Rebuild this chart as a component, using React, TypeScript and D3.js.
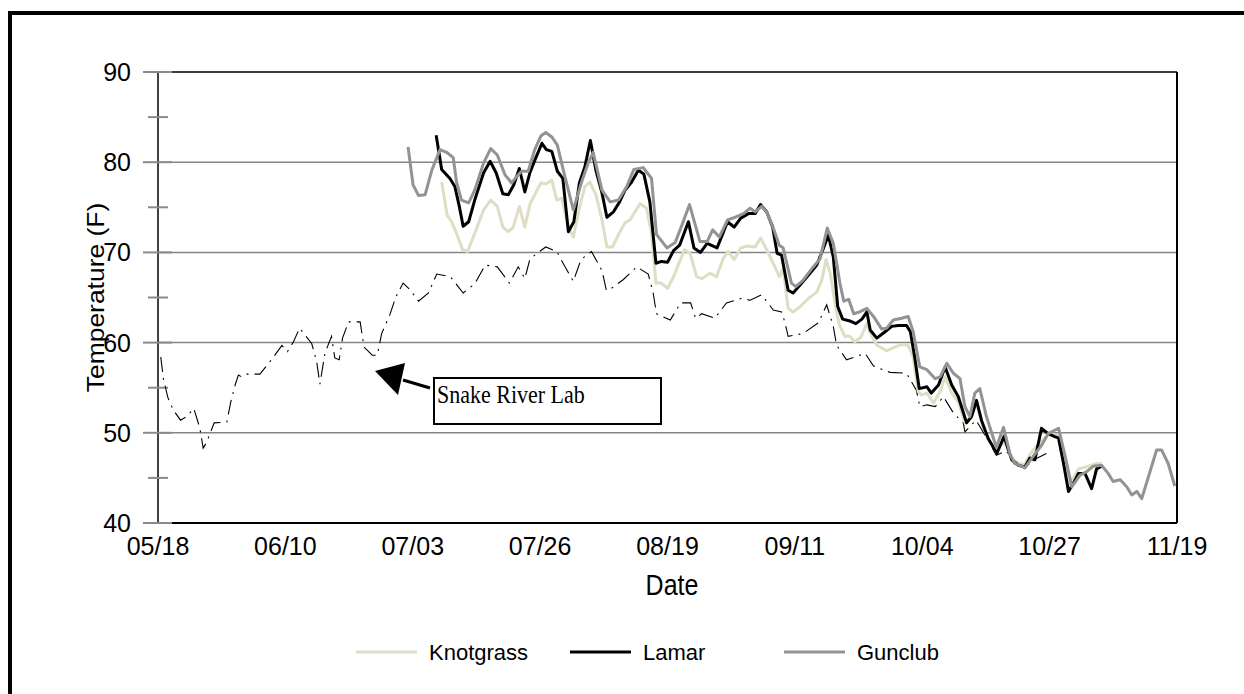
import * as d3 from "d3";

// days are counted from 05/18
const xTickLabels = ["05/18", "06/10", "07/03", "07/26", "08/19", "09/11", "10/04", "10/27", "11/19"];
const totalDays = 185;
const yTicks = [40, 50, 60, 70, 80, 90];
const yMinorTicks = [45, 55, 65, 75, 85];

const snakeRiver: [number, number][] = [
  [0.5, 58.4], [1, 55.9], [1.8, 53.9], [2.8, 52.5], [4.1, 51.4], [5.2, 51.8], [6.5, 52.7], [7.6, 50.5],
  [8.2, 48.3], [8.8, 48.9], [10.2, 51.1], [12.5, 51.2], [13.2, 53.4], [14, 55.3], [14.6, 56.4], [15.2, 56.2],
  [16.1, 56.5], [18.5, 56.5], [20.6, 58.1], [22.5, 59.7], [23.5, 59.0], [24.6, 60.1], [25.7, 61.6], [27.9, 59.9],
  [28.8, 57.9], [29.4, 55.4], [30.3, 58.8], [31.5, 60.7], [32.1, 58.3], [32.9, 58.1], [33.5, 60.5], [34.6, 62.3],
  [36.7, 62.3], [37.4, 59.5], [38.9, 58.6], [39.8, 58.6], [40.6, 61.0], [42.1, 63.1], [43.2, 65.1], [44.5, 66.6],
  [45.7, 65.9], [47.3, 64.6], [49.1, 65.5], [50.6, 67.6], [53.1, 67.3], [55.4, 65.5], [57.5, 66.5], [59.4, 68.6],
  [61.6, 68.4], [63.8, 66.6], [65.4, 68.4], [66.6, 67.1], [67.5, 69.2], [68.4, 69.7], [70.4, 70.6], [72.4, 70.1],
  [73.9, 68.4], [75.4, 66.8], [76.8, 69.2], [78.7, 70.1], [80.6, 68.0], [81.4, 65.8], [82.3, 66.0], [84.5, 67.0],
  [86.9, 68.4], [89, 67.6], [89.9, 65.5], [90.5, 63.2], [93, 62.5], [94.9, 64.4], [96.7, 64.4], [97.6, 62.7],
  [98.7, 63.2], [101.1, 62.7], [103.2, 64.4], [105.9, 64.9], [107.5, 64.7], [109.6, 65.3], [111.7, 63.6], [113.2, 63.4],
  [113.8, 62.3], [114.4, 60.7], [117.1, 61.0], [119.9, 62.2], [121.4, 64.2], [122.6, 61.8], [123.2, 59.7], [125, 58.1],
  [128.4, 58.8], [129.9, 57.4], [132.9, 56.7], [135.9, 56.6], [137.7, 54.7], [138.3, 52.9], [139.6, 53.1], [141.1, 52.9],
  [142.6, 54.0], [144.4, 52.2], [146.2, 51.1], [146.5, 50.1], [148.5, 51.4], [150.5, 49.4], [152.2, 47.5], [154, 48.0],
  [155.5, 46.5], [157.5, 46.2], [159, 47.0], [161.3, 47.7],
];

const knotgrass: [number, number][] = [
  [51.5, 77.8], [52.5, 74.1], [53.3, 73.4], [54.2, 72.1], [55.3, 70.3], [56.2, 70.1], [57.5, 72.1], [59.1, 74.7],
  [60.4, 75.8], [61.6, 75.1], [62.6, 72.8], [63.6, 72.3], [64.5, 72.8], [65.6, 75.1], [66.6, 72.8], [67.5, 75.3],
  [68.4, 76.4], [69.5, 77.7], [70.4, 77.6], [71.5, 78.0], [72.4, 75.8], [73.3, 76.0], [74.5, 72.8], [75.4, 71.7],
  [76.5, 74.9], [77.5, 77.3], [78.4, 77.8], [79.5, 76.4], [80.6, 73.6], [81.5, 70.6], [82.5, 70.6], [83.7, 72.1],
  [84.8, 73.3], [85.7, 73.6], [87.5, 75.4], [88.7, 74.9], [89.6, 72.1], [90.4, 66.6], [91.4, 66.6], [92.5, 66.0],
  [93.6, 67.3], [94.5, 68.7], [95.6, 70.3], [96.6, 69.9], [97.8, 67.3], [98.8, 67.1], [100.2, 67.7], [101.4, 67.3],
  [102.6, 69.3], [103.5, 70.1], [104.6, 69.2], [105.8, 70.5], [106.9, 70.7], [108.4, 70.6], [109.4, 71.6], [110.5, 70.3],
  [112, 68.4], [112.8, 67.3], [113.5, 68.2], [114.4, 63.8], [115.3, 63.4], [116.6, 64.0], [118.1, 64.9], [119.6, 65.6],
  [120.5, 66.9], [121.3, 69.2], [122.1, 67.5], [123.1, 63.6], [123.7, 62.0], [124.7, 60.7], [125.6, 60.7], [126.5, 60.1],
  [127.6, 60.6], [128.7, 62.1], [129.6, 60.7], [130.5, 59.7], [132.3, 59.1], [133.8, 59.5], [135, 59.8], [136.2, 59.7],
  [137.1, 58.4], [138, 54.6], [138.6, 54.2], [139.6, 54.4], [140.8, 53.3], [142, 54.6], [142.9, 56.2], [144.1, 54.4],
  [145.3, 53.4], [146.5, 51.1], [147.7, 51.8], [148.6, 53.3], [149.8, 50.7], [151, 49.0], [152.2, 48.1], [153.6, 49.0],
  [155, 47.2], [156.2, 46.6], [157.4, 46.5], [158.3, 47.6], [159.6, 48.6], [160.6, 49.2], [161.6, 49.8], [162.7, 49.8],
  [163.5, 49.6], [164.4, 47.0], [165.3, 44.2], [166.2, 45.0], [167.1, 46.0], [168.3, 46.2], [169.5, 46.4], [170.4, 46.6],
  [171.3, 46.6],
];

const lamar: [number, number][] = [
  [50.5, 83.0], [51.5, 79.2], [53, 78.2], [53.9, 77.3], [54.7, 75.1], [55.4, 72.9], [56.4, 73.4], [57.5, 75.8],
  [59.1, 78.8], [60.3, 80.1], [61.4, 78.8], [62.6, 76.5], [63.6, 76.4], [64.6, 77.5], [65.6, 79.3], [66.6, 76.7],
  [67.5, 78.8], [68.4, 80.2], [69.7, 82.1], [70.5, 81.4], [71.5, 81.2], [72.5, 79.0], [73.5, 78.2], [74.5, 72.3],
  [75.5, 73.4], [76.5, 77.7], [77.5, 79.5], [78.5, 82.4], [79.5, 79.1], [80.6, 76.6], [81.5, 73.9], [82.7, 74.5],
  [83.8, 75.6], [84.8, 76.9], [86, 77.8], [87.2, 79.1], [88.2, 78.7], [89.3, 75.6], [90.4, 68.8], [91.4, 69.0],
  [92.5, 68.9], [93.6, 70.2], [94.7, 70.8], [96.3, 73.4], [97.3, 70.5], [98.5, 70.0], [99.7, 71.0], [101.5, 70.5],
  [103.4, 73.4], [104.6, 72.8], [105.8, 73.8], [107.2, 74.3], [108.4, 74.3], [109.4, 75.3], [110.5, 74.5], [111.6, 72.8],
  [112.4, 69.9], [113.2, 69.7], [114.4, 65.8], [115.3, 65.5], [116.6, 66.4], [118.1, 67.5], [119.6, 68.6], [120.9, 70.6],
  [121.7, 71.9], [122.6, 69.5], [123.4, 64.0], [124.3, 62.6], [125.6, 62.4], [126.7, 62.1], [127.8, 62.6], [128.7, 63.4],
  [129.3, 61.4], [130.5, 60.5], [132, 61.2], [133.2, 61.8], [134.4, 61.9], [135.9, 61.9], [136.6, 61.2], [137.4, 58.3],
  [138.2, 54.9], [139.6, 55.1], [140.4, 54.4], [141.7, 55.3], [142.9, 57.3], [144.1, 55.3], [145.3, 54.0], [146.8, 51.1],
  [147.7, 51.8], [148.6, 53.6], [149.5, 51.4], [150.7, 49.4], [152.3, 47.7], [153.6, 49.6], [155, 47.0], [156.2, 46.4],
  [157.4, 46.2], [158.3, 47.2], [159.2, 47.0], [160.4, 50.5], [161.6, 49.9], [162.7, 49.6], [163.5, 49.4], [164.4, 46.6],
  [165.3, 43.5], [166.2, 44.4], [167.1, 45.5], [168.3, 45.5], [169.5, 43.8], [170.4, 46.0], [171.3, 46.3],
];

const gunclub: [number, number][] = [
  [45.4, 81.7], [46.3, 77.5], [47.3, 76.3], [48.5, 76.4], [49.7, 79.1], [51.2, 81.4], [52.4, 81.1], [53.6, 80.5],
  [54.2, 77.8], [55.1, 75.8], [56.4, 75.5], [57.5, 76.9], [59.1, 79.9], [60.4, 81.5], [61.6, 80.8], [63, 78.6],
  [64.2, 77.7], [65.1, 78.4], [66, 79.0], [67.2, 79.0], [68.4, 81.4], [69.5, 82.9], [70.4, 83.3], [71.5, 82.8],
  [72.5, 81.9], [73.6, 79.1], [75.4, 74.7], [76.9, 77.8], [78.1, 79.9], [79, 81.1], [80.6, 76.9], [82.1, 75.6],
  [83.6, 75.8], [85.1, 77.3], [86.4, 79.2], [88.1, 79.4], [89.6, 78.2], [90.5, 72.0], [92.4, 70.5], [93.9, 71.1],
  [95.1, 73.0], [96.5, 75.3], [98.4, 71.2], [99.7, 71.2], [100.7, 72.5], [101.9, 71.7], [103.4, 73.6], [104.8, 73.9],
  [106.3, 74.3], [107.5, 74.9], [108.4, 74.5], [109.6, 75.1], [110.5, 74.5], [111.7, 72.7], [112.8, 70.8], [113.5, 70.5],
  [115, 66.6], [115.8, 66.2], [117.1, 66.9], [118.7, 68.2], [120.2, 69.3], [121.5, 72.7], [122.6, 71.0], [123.8, 66.6],
  [124.5, 64.6], [125.4, 64.8], [126.3, 63.2], [127.4, 63.4], [128.7, 63.8], [129.9, 62.9], [131.4, 61.5], [132.3, 61.6],
  [133.5, 62.5], [135, 62.7], [136.2, 62.9], [137.1, 61.2], [138.3, 57.3], [139.6, 57.0], [141.1, 56.0], [142, 56.2],
  [143.2, 57.7], [144.4, 56.6], [145.6, 56.0], [146.5, 52.9], [147.4, 51.8], [148.3, 54.4], [149.2, 54.9], [150.4, 51.8],
  [152.2, 48.4], [153.5, 50.6], [154.7, 47.6], [155.6, 46.6], [157.4, 46.1], [158.9, 47.4], [160.4, 48.6], [161.6, 49.9],
  [163.5, 50.5], [164.7, 47.4], [165.9, 44.0], [167.4, 45.3], [168.6, 45.7], [169.8, 46.3], [171.3, 46.4], [172.5, 45.5],
  [173.4, 44.6], [174.7, 44.8], [175.9, 44.0], [176.8, 43.1], [177.7, 43.5], [178.6, 42.7], [179.8, 45.1], [181.3, 48.1],
  [182.2, 48.1], [183.4, 46.6], [184.6, 44.1],
];

const seriesNames = ["Knotgrass", "Lamar", "Gunclub"];

const SERIES_STYLE: Record<string, { color: string; width: number }> = {
  Knotgrass: { color: "#dedec4", width: 3 },
  Lamar: { color: "#000000", width: 3 },
  Gunclub: { color: "#939393", width: 3 },
};

const SANS = "'Liberation Sans', Arial, sans-serif";
const SERIF = "'Liberation Serif', 'Times New Roman', serif";

export default function App() {
  const left = 158, right = 1177, top = 72, bottom = 523;

  const x = d3.scaleLinear().domain([0, totalDays]).range([left, right]);
  const y = d3.scaleLinear().domain([40, 90]).range([bottom, top]);
  const line = d3
    .line<[number, number]>()
    .x((d) => x(d[0]))
    .y((d) => y(d[1]));

  const tickDays = xTickLabels.map((_, i) => (i * totalDays) / (xTickLabels.length - 1));
  const dataBySeries: Record<string, [number, number][]> = {
    Knotgrass: knotgrass,
    Lamar: lamar,
    Gunclub: gunclub,
  };
  const legendX = [356, 570, 784];

  return (
    <svg
      width={1244}
      height={694}
      viewBox="0 0 1244 694"
      style={{ position: "absolute", left: 0, top: 0, background: "#fff" }}
    >
      <rect x={0} y={0} width={1244} height={694} fill="#fff" />
      {/* outer chart frame */}
      <rect x={10} y={13} width={1400} height={900} fill="none" stroke="#000" strokeWidth={4} />

      {/* gridlines */}
      {yTicks
        .filter((t) => t > 40 && t < 90)
        .map((t) => (
          <line key={`g${t}`} x1={left} x2={right} y1={y(t)} y2={y(t)} stroke="#858585" strokeWidth={1.5} />
        ))}

      {/* plot frame */}
      <line x1={left} x2={right} y1={top} y2={top} stroke="#000" strokeWidth={1.5} />
      <line x1={right} x2={right} y1={top} y2={bottom} stroke="#000" strokeWidth={2} />
      <line x1={left} x2={right} y1={bottom} y2={bottom} stroke="#000" strokeWidth={2} />
      <line x1={left} x2={left} y1={top} y2={bottom} stroke="#000" strokeWidth={1.5} />

      {/* y ticks */}
      {yTicks.map((t) => (
        <line key={`t${t}`} x1={143} x2={172} y1={y(t)} y2={y(t)} stroke="#8a8a8a" strokeWidth={2} />
      ))}
      {yMinorTicks.map((t) => (
        <line key={`m${t}`} x1={148} x2={168} y1={y(t)} y2={y(t)} stroke="#8a8a8a" strokeWidth={2} />
      ))}
      {yTicks.map((t) => (
        <text
          key={`l${t}`}
          x={131}
          y={y(t)}
          dy="0.36em"
          textAnchor="end"
          fontFamily={SANS}
          fontSize={25}
          fill="#000"
        >
          {t}
        </text>
      ))}

      {/* x tick labels */}
      {xTickLabels.map((lab, i) => (
        <text
          key={lab}
          x={x(tickDays[i])}
          y={555}
          textAnchor="middle"
          fontFamily={SANS}
          fontSize={25}
          fill="#000"
        >
          {lab}
        </text>
      ))}

      {/* axis titles */}
      <text
        transform={`translate(672,595) scale(1,1.18)`}
        textAnchor="middle"
        fontFamily={SANS}
        fontSize={25}
      >
        Date
      </text>
      <text
        transform={`translate(104,${(top + bottom) / 2}) rotate(-90) scale(1.15,1)`}
        textAnchor="middle"
        fontFamily={SANS}
        fontSize={23}
      >
        Temperature (F)
      </text>

      {/* Snake River Lab */}
      <path
        d={line(snakeRiver) ?? ""}
        fill="none"
        stroke="#000"
        strokeWidth={1.1}
        strokeDasharray="15,6,2,6"
      />

      {/* site series */}
      {seriesNames.map((name) => (
        <path
          key={name}
          d={line(dataBySeries[name]) ?? ""}
          fill="none"
          stroke={SERIES_STYLE[name].color}
          strokeWidth={SERIES_STYLE[name].width}
          strokeLinejoin="round"
        />
      ))}

      {/* annotation */}
      <line x1={403} y1={380} x2={430} y2={388} stroke="#000" strokeWidth={3} />
      <polygon points="375,371 405,363 398,395" fill="#000" />
      <rect x={434} y={378} width={227} height={46} fill="#fff" stroke="#000" strokeWidth={2} />
      <text
        transform="translate(437,403) scale(1,1.14)"
        fontFamily={SERIF}
        fontSize={22}
        fill="#000"
      >
        Snake River Lab
      </text>

      {/* legend */}
      {seriesNames.map((name, i) => (
        <g key={`leg${name}`}>
          <line
            x1={legendX[i]}
            x2={legendX[i] + 61}
            y1={652}
            y2={652}
            stroke={SERIES_STYLE[name].color}
            strokeWidth={3}
          />
          <text x={legendX[i] + 73} y={660} fontFamily={SANS} fontSize={22} fill="#000">
            {name}
          </text>
        </g>
      ))}
    </svg>
  );
}
